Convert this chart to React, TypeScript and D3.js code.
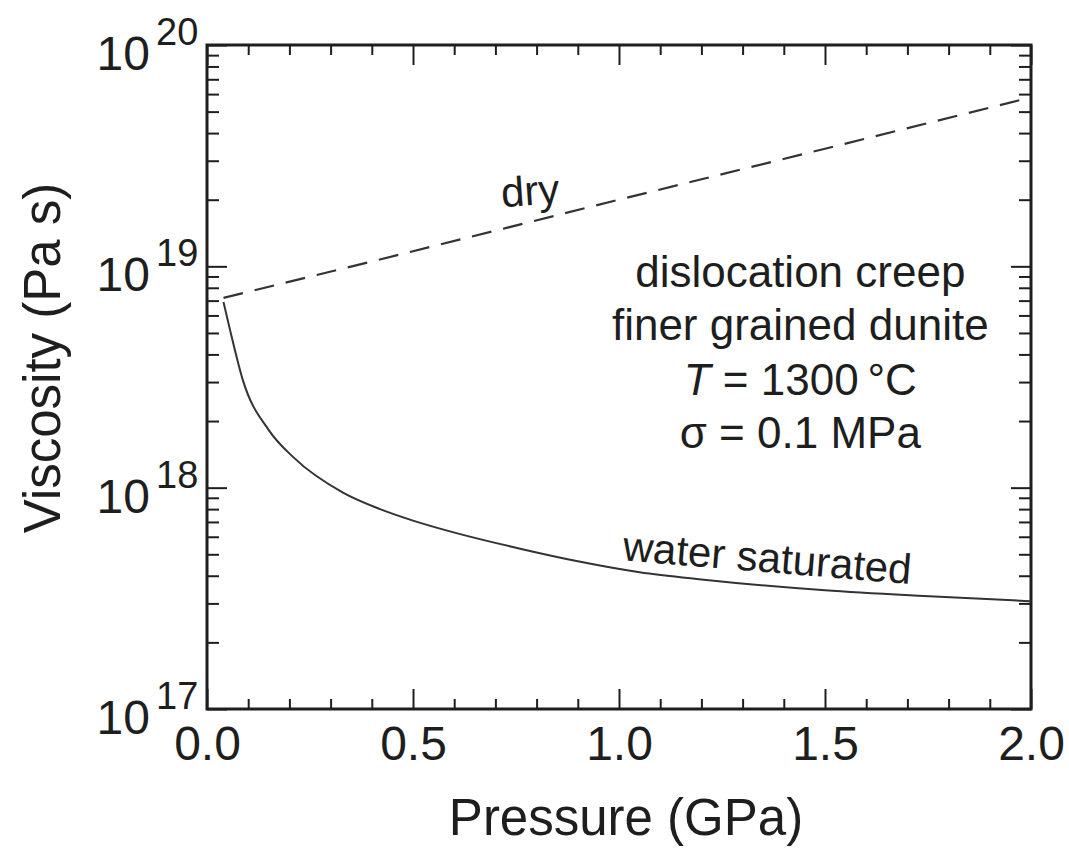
import React, { useEffect, useRef } from 'react'
import * as d3 from 'd3'

// values
const pressureDry = [0.04, 0.5, 1.0, 1.5, 2.0]
const viscosityDry = [7.2e18, 1.17e19, 2.0e19, 3.4e19, 5.8e19]

const pressureWet = [0.04, 0.056, 0.087, 0.15, 0.21, 0.33, 0.42, 0.5, 0.61, 0.76, 0.9, 1.05, 1.2, 1.5, 1.74, 2.0]
const viscosityWet = [6.9e18, 5.15e18, 3.06e18, 1.82e18, 1.37e18, 9.5e17, 8.0e17, 7.1e17, 6.2e17, 5.3e17, 4.65e17, 4.15e17, 3.85e17, 3.44e17, 3.24e17, 3.07e17]

const xMajorTicks = [0, 0.5, 1.0, 1.5, 2.0]
const xMinorTicks = [0.1, 0.2, 0.3, 0.4, 0.6, 0.7, 0.8, 0.9, 1.1, 1.2, 1.3, 1.4, 1.6, 1.7, 1.8, 1.9]
const yDecades = [17, 18, 19, 20]
const yMinorFactors = [2, 3, 4, 5, 6, 7, 8, 9]

const annotationLines = ['dislocation creep', 'finer grained dunite']

const FONT = '"Liberation Sans", Arial, Helvetica, sans-serif'
const INK = '#1e1e1e'

function App() {
  const ref = useRef<SVGSVGElement>(null)

  useEffect(() => {
    const margin = { left: 207, right: 38, top: 45, bottom: 142 }
    const width = 1069 - margin.left - margin.right
    const height = 851 - margin.top - margin.bottom

    const svg = d3.select(ref.current)
    svg.selectAll('*').remove()
    const chart = svg.append('g')
      .attr('transform', `translate(${margin.left}, ${margin.top})`)

    const x = d3.scaleLinear().domain([0, 2]).range([0, width])
    const y = d3.scaleLog().domain([1e17, 1e20]).range([height, 0])

    const yMajor = yDecades.map(d => Math.pow(10, d))
    const yMinor: number[] = []
    yDecades.slice(0, -1).forEach(d => {
      yMinorFactors.forEach(k => yMinor.push(k * Math.pow(10, d)))
    })

    const styleAxis = (g: any) => {
      g.select('.domain').remove()
      g.selectAll('line').attr('stroke', INK).attr('stroke-width', 2)
      g.selectAll('text').attr('fill', INK).attr('font-family', FONT)
    }

    // bottom axis, ticks pointing inward
    chart.append('g')
      .attr('transform', `translate(0, ${height})`)
      .call(d3.axisBottom(x).tickValues(xMinorTicks).tickSize(-10).tickSizeOuter(0).tickFormat(() => ''))
      .call(styleAxis)
    chart.append('g')
      .attr('transform', `translate(0, ${height})`)
      .call(d3.axisBottom(x).tickValues(xMajorTicks).tickSize(-20).tickSizeOuter(0)
        .tickPadding(17).tickFormat(d3.format('.1f')))
      .call(styleAxis)
      .selectAll('text').attr('font-size', 48)

    // top axis
    chart.append('g')
      .call(d3.axisTop(x).tickValues(xMinorTicks).tickSize(-10).tickSizeOuter(0).tickFormat(() => ''))
      .call(styleAxis)
    chart.append('g')
      .call(d3.axisTop(x).tickValues(xMajorTicks).tickSize(-20).tickSizeOuter(0).tickFormat(() => ''))
      .call(styleAxis)

    // left and right axes
    chart.append('g')
      .call(d3.axisLeft(y).tickValues(yMinor).tickSize(-12).tickSizeOuter(0).tickFormat(() => ''))
      .call(styleAxis)
    chart.append('g')
      .call(d3.axisLeft(y).tickValues(yMajor).tickSize(-20).tickSizeOuter(0).tickFormat(() => ''))
      .call(styleAxis)
    chart.append('g')
      .attr('transform', `translate(${width}, 0)`)
      .call(d3.axisRight(y).tickValues(yMinor).tickSize(-12).tickSizeOuter(0).tickFormat(() => ''))
      .call(styleAxis)
    chart.append('g')
      .attr('transform', `translate(${width}, 0)`)
      .call(d3.axisRight(y).tickValues(yMajor).tickSize(-20).tickSizeOuter(0).tickFormat(() => ''))
      .call(styleAxis)

    // y tick labels as 10^n
    const yLabels = chart.append('g')
      .attr('font-family', FONT)
      .attr('fill', INK)
    yDecades.forEach(d => {
      const yy = y(Math.pow(10, d))
      yLabels.append('text')
        .attr('x', -57)
        .attr('y', yy + 25)
        .attr('text-anchor', 'end')
        .attr('font-size', 48)
        .text('10')
      yLabels.append('text')
        .attr('x', -51)
        .attr('y', yy)
        .attr('font-size', 38)
        .text(String(d))
    })

    // frame
    chart.append('rect')
      .attr('width', width)
      .attr('height', height)
      .attr('fill', 'none')
      .attr('stroke', INK)
      .attr('stroke-width', 3)

    // curves
    const line = d3.line<[number, number]>()
      .x(d => x(d[0]))
      .y(d => y(d[1]))
      .curve(d3.curveMonotoneX)

    chart.append('path')
      .datum(pressureDry.map((p, i) => [p, viscosityDry[i]] as [number, number]))
      .attr('fill', 'none')
      .attr('stroke', '#333')
      .attr('stroke-width', 2.2)
      .attr('stroke-dasharray', '20,12')
      .attr('d', line)

    chart.append('path')
      .datum(pressureWet.map((p, i) => [p, viscosityWet[i]] as [number, number]))
      .attr('fill', 'none')
      .attr('stroke', '#333')
      .attr('stroke-width', 2)
      .attr('d', line)

    // curve labels
    const labels = chart.append('g')
      .attr('font-family', FONT)
      .attr('fill', INK)
      .attr('font-size', 42)

    labels.append('text')
      .attr('transform', `translate(${x(0.716)}, ${y(1.85e19)}) rotate(-4)`)
      .text('dry')

    labels.append('text')
      .attr('transform', `translate(${x(1.007)}, ${y(4.7e17)}) rotate(4.7)`)
      .text('water saturated')

    // annotation block
    const cx = x(1.44)
    const note = chart.append('g')
      .attr('font-family', FONT)
      .attr('fill', INK)
      .attr('font-size', 44)
      .attr('text-anchor', 'middle')

    annotationLines.forEach((t, i) => {
      note.append('text')
        .attr('x', cx)
        .attr('y', 242 + i * 53)
        .text(t)
    })
    const tLine = note.append('text').attr('x', cx).attr('y', 350)
    tLine.append('tspan').attr('font-style', 'italic').text('T')
    tLine.append('tspan').text(' = 1300\u2009°C')
    const sLine = note.append('text').attr('x', cx).attr('y', 403)
    sLine.append('tspan').text('σ')
    sLine.append('tspan').text(' = 0.1 MPa')

    // axis titles
    svg.append('text')
      .attr('x', 626)
      .attr('y', 835)
      .attr('text-anchor', 'middle')
      .attr('font-family', FONT)
      .attr('font-size', 51)
      .attr('fill', INK)
      .text('Pressure (GPa)')

    svg.append('text')
      .attr('transform', 'translate(60, 358) rotate(-90)')
      .attr('text-anchor', 'middle')
      .attr('font-family', FONT)
      .attr('font-size', 51)
      .attr('fill', INK)
      .text('Viscosity (Pa s)')
  }, [])

  return (
    <div style={{ position: 'absolute', left: 0, top: 0, background: '#fff' }}>
      <svg ref={ref} width={1069} height={851} style={{ display: 'block' }} />
    </div>
  )
}

export default App
